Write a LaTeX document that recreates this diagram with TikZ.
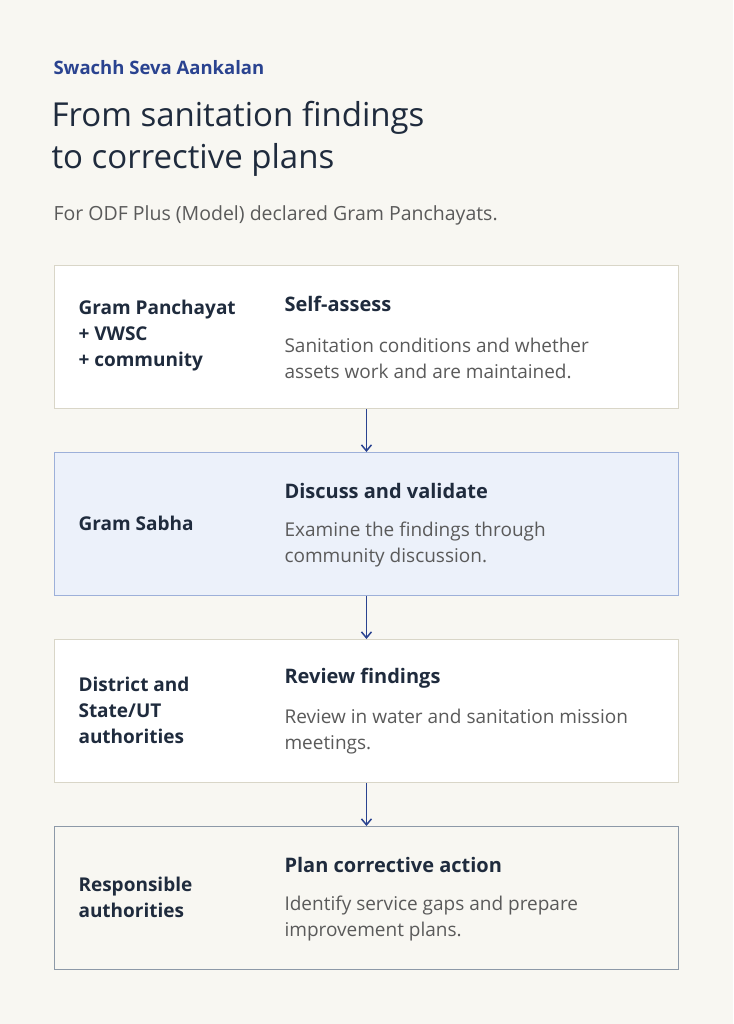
\documentclass[tikz,border=0pt]{standalone}
\usepackage{fontspec}
\setmainfont{Open Sans}
\usetikzlibrary{positioning,arrows.meta}
\definecolor{bgcol}{HTML}{F8F7F2}
\definecolor{inkcol}{HTML}{1F2B3D}
\definecolor{bluecol}{HTML}{2A4390}
\definecolor{greycol}{HTML}{5A5A5A}
\definecolor{plainedge}{HTML}{D9D6C8}
\definecolor{bluefill}{HTML}{ECF1FA}
\definecolor{blueedge}{HTML}{9DB0D9}
\definecolor{darkedge}{HTML}{8D99A8}
\tikzset{
  stagebox/.style={draw=plainedge, fill=white, line width=0.9pt, minimum width=624pt, minimum height=143pt, anchor=north west},
  who/.style={anchor=west, align=left, font=\fontsize{19}{26}\selectfont\bfseries, text=inkcol},
  what/.style={anchor=west, font=\fontsize{20}{24}\selectfont\bfseries, text=inkcol},
  detail/.style={anchor=west, align=left, font=\fontsize{19}{26}\selectfont, text=greycol},
  flow/.style={-{Straight Barb[length=6pt,width=10pt,line width=1.5pt]}, draw=bluecol, line width=1.5pt}
}
\begin{document}
\begin{tikzpicture}[x=1pt,y=-1pt]
  \fill[bgcol] (0,0) rectangle (733,1024);
  \useasboundingbox (0,0) rectangle (733,1024);
  % heading
  \node[anchor=west, text=bluecol, font=\fontsize{18.5}{22}\selectfont\bfseries] (brand) at (50,68) {Swachh Seva Aankalan};
  \node[anchor=west, align=left, text=inkcol, font=\fontsize{33}{42}\selectfont] (title) at (48,139) {From sanitation findings\\to corrective plans};
  \node[anchor=west, text=greycol, font=\fontsize{19.5}{24}\selectfont] (intro) at (50,215) {For ODF Plus (Model) declared Gram Panchayats.};
  % stages
  \node[stagebox] (s1) at (54,265) {};
  \node[stagebox, fill=bluefill, draw=blueedge] (s2) at (54,452) {};
  \node[stagebox] (s3) at (54,639) {};
  \node[stagebox, fill=bgcol, draw=darkedge] (s4) at (54,826) {};
  % stage 1
  \node[who] (w1) at (75,336) {Gram Panchayat\\+ VWSC\\+ community};
  \node[what] (h1) at (281,304) {Self-assess};
  \node[detail] (d1) at (281,358) {Sanitation conditions and whether\\assets work and are maintained.};
  % stage 2
  \node[who] (w2) at (75,523) {Gram Sabha};
  \node[what] (h2) at (281,491) {Discuss and validate};
  \node[detail] (d2) at (281,545) {Examine the findings through\\community discussion.};
  % stage 3
  \node[who] (w3) at (75,710) {District and\\State/UT\\authorities};
  \node[what] (h3) at (281,678) {Review findings};
  \node[detail] (d3) at (281,732) {Review in water and sanitation mission\\meetings.};
  % stage 4
  \node[who] (w4) at (75,897) {Responsible\\authorities};
  \node[what] (h4) at (281,865) {Plan corrective action};
  \node[detail] (d4) at (281,919) {Identify service gaps and prepare\\improvement plans.};
  % arrows
  \foreach \a/\b in {s1/s2,s2/s3,s3/s4}
    \draw[flow] (\a.south) -- (\b.north);
\end{tikzpicture}
\end{document}
